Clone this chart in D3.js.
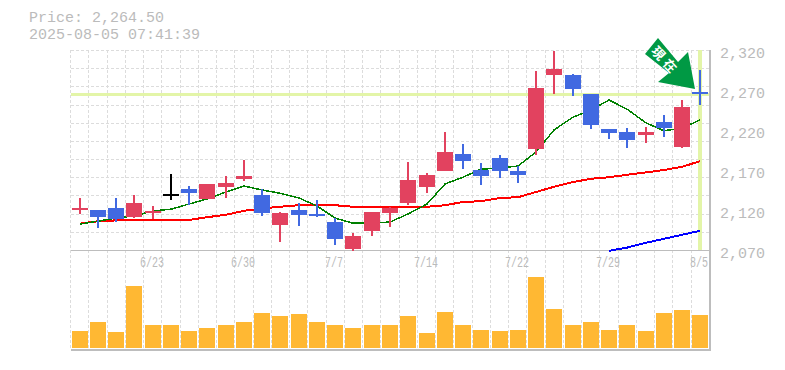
<!DOCTYPE html>
<html>
<head>
<meta charset="utf-8">
<script src="https://cdn.jsdelivr.net/npm/d3@7"></script>
<style>
  html, body { margin: 0; padding: 0; background: #fff; }
  svg { display: block; }
  text { font-family: "Liberation Mono", monospace; fill: #bbb; }
</style>
</head>
<body>
<svg id="chart" width="785" height="370"></svg>
<script>
const dates = ["6/17","6/18","6/19","6/20","6/23","6/24","6/25","6/26","6/27","6/30",
  "7/1","7/2","7/3","7/4","7/7","7/8","7/9","7/10","7/11","7/14",
  "7/15","7/16","7/17","7/18","7/22","7/23","7/24","7/25","7/28","7/29",
  "7/30","7/31","8/1","8/4","8/5"];

const opens = [2121,2120,2122.5,2111,2116,2139.6,2146,2134,2149,2158.75,
  2139,2101,2120,2114.6,2105,2071,2094,2116,2129,2149,
  2169,2190,2170,2185,2169,2196,2289,2289,2265,2221,
  2217.5,2214,2230,2199,2267.5];
const highs = [2134.6,2120,2134.6,2139,2125,2165,2150,2152.5,2162.5,2182.5,
  2146,2117.5,2128.75,2132.5,2110,2091,2117.5,2124,2180,2166,
  2217.5,2202.5,2178.75,2188.75,2175,2294,2319,2290,2265,2221,
  2222.5,2224,2239,2257.5,2295];
const lows = [2114.6,2098,2105.4,2110,2109,2132.5,2126,2134,2135,2156,
  2112.5,2080,2100,2111.6,2076,2069,2087.5,2099,2126,2141,
  2169,2171,2151,2160,2154,2189,2265,2262.5,2221,2209,
  2197.5,2204,2211,2197.5,2251];
const closes = [2122.5,2111,2108.75,2128.75,2118.75,2139.6,2141,2152.5,2153.75,2162.5,
  2116,2116,2114,2112.5,2084,2087.5,2117.5,2122.5,2157.5,2163.75,
  2192.5,2181,2162.5,2169,2164,2272.5,2296,2271,2226,2216,
  2207.5,2217.5,2222.5,2249,2264.5];
// candle colour flags: 1 red, -1 blue, 0 unchanged
const moves = [1,-1,-1,1,1,0,-1,1,1,1,-1,1,-1,-1,-1,1,1,1,1,1,
  1,-1,-1,-1,-1,1,1,-1,-1,-1,-1,1,-1,1,-1];

const maShort = [2102.5,2106,2110,2112.5,2118.75,2121,2127.5,2133.75,2142.5,2150,
  2145,2141,2135,2125,2110,2103.5,2103.5,2105,2115,2127.5,
  2152.5,2161,2171,2172.5,2175,2192.5,2220,2236,2245,2257.5,
  2246,2229,2219,2222.5,2232.5];
const maMid = [2103,2106,2107,2107,2107,2107,2107.5,2111,2114,2119,
  2122,2124,2126,2126,2126,2124,2124,2124,2124,2124,
  2126,2130,2131,2135,2136,2142.5,2149,2155,2159,2161,
  2164,2167,2170,2174,2181];
const maLong = [null,null,null,null,null,null,null,null,null,null,
  null,null,null,null,null,null,null,null,null,null,
  null,null,null,null,null,null,null,null,null,2069,
  2073,2079,2084,2089,2094];
const volumes = [17,26,16,62,23,23,17,20,23,26,35,32,34,26,23,20,23,23,32,15,
  36,23,18,17,18,71,39,23,26,18,23,17,35,38,33];

const priceTicks = [2320,2270,2220,2170,2120,2070];
const lastPrice = 2264.5;
const priceLabel = "Price: 2,264.50";
const stampLabel = "2025-08-05 07:41:39";
const arrowLabel = "現在";

const plotLeft = 70.5, plotRight = 709.5, plotTop = 50, priceBottom = 250, volBottom = 350;
const RED = "#e2425f", BLUE = "#4169e1", GRID = "#dcdcdc", AXIS = "#bdbdbd", LIME = "#e3f5a8";

const svg = d3.select("#chart");

const x = d3.scaleBand().domain(d3.range(dates.length)).range([plotLeft, plotRight]);
const y = d3.scaleLinear().domain([2070, 2320]).range([priceBottom, plotTop]);
const yVol = d3.scaleLinear().domain([0, 100]).range([348, 248]);
const cx = i => Math.round(x(i) + x.bandwidth() / 2);

// grid
const grid = svg.append("g")
  .attr("stroke", GRID)
  .attr("stroke-dasharray", "3,2")
  .attr("shape-rendering", "crispEdges");

grid.selectAll("line.v")
  .data(d3.range(dates.length + 1))
  .join("line")
  .attr("class", "v")
  .attr("x1", i => Math.floor(plotLeft + i * x.bandwidth()) + 0.5)
  .attr("x2", i => Math.floor(plotLeft + i * x.bandwidth()) + 0.5)
  .attr("y1", plotTop)
  .attr("y2", volBottom);

grid.selectAll("line.h")
  .data(d3.range(11))
  .join("line")
  .attr("class", "h")
  .attr("x1", plotLeft)
  .attr("x2", plotRight)
  .attr("y1", i => Math.round(plotTop + i * 200 / 11) + 0.5)
  .attr("y2", i => Math.round(plotTop + i * 200 / 11) + 0.5);

// current price guides
svg.append("line")
  .attr("x1", plotLeft).attr("x2", plotRight)
  .attr("y1", y(lastPrice)).attr("y2", y(lastPrice))
  .attr("stroke", LIME).attr("stroke-width", 3)
  .attr("shape-rendering", "crispEdges");

svg.append("line")
  .attr("x1", cx(34)).attr("x2", cx(34))
  .attr("y1", plotTop).attr("y2", priceBottom)
  .attr("stroke", LIME).attr("stroke-width", 4)
  .attr("shape-rendering", "crispEdges");

// axes frame
const frame = svg.append("g").attr("stroke", AXIS).attr("shape-rendering", "crispEdges");
frame.append("line").attr("x1", plotLeft).attr("x2", plotRight + 1).attr("y1", 250.5).attr("y2", 250.5);
frame.append("line").attr("x1", plotLeft).attr("x2", plotRight + 1).attr("y1", volBottom).attr("y2", volBottom).attr("stroke-width", 2);
frame.append("line").attr("x1", plotRight + 0.5).attr("x2", plotRight + 0.5).attr("y1", plotTop).attr("y2", volBottom + 1).attr("stroke-width", 2);

// moving averages
const line = d3.line()
  .defined(d => d !== null)
  .x((d, i) => cx(i))
  .y(d => y(d));

[[maLong, "#0000ff", 2], [maMid, "#ff0000", 2], [maShort, "#008000", 1.5]].forEach(([s, c, w]) => {
  svg.append("path")
    .attr("d", line(s))
    .attr("fill", "none")
    .attr("stroke", c)
    .attr("stroke-width", w)
    .attr("shape-rendering", "crispEdges");
});

// candles
const candleColor = i => moves[i] > 0 ? RED : moves[i] < 0 ? BLUE : "#000";

svg.append("g").attr("shape-rendering", "crispEdges")
  .selectAll("line")
  .data(dates)
  .join("line")
  .attr("x1", (d, i) => cx(i))
  .attr("x2", (d, i) => cx(i))
  .attr("y1", (d, i) => y(highs[i]))
  .attr("y2", (d, i) => y(lows[i]))
  .attr("stroke", (d, i) => candleColor(i))
  .attr("stroke-width", 2);

svg.append("g").attr("shape-rendering", "crispEdges")
  .selectAll("rect")
  .data(dates)
  .join("rect")
  .attr("x", (d, i) => cx(i) - 8)
  .attr("width", 16)
  .attr("y", (d, i) => y(Math.max(opens[i], closes[i])))
  .attr("height", (d, i) => Math.max(2, Math.abs(y(opens[i]) - y(closes[i]))))
  .attr("fill", (d, i) => candleColor(i));

// volume
svg.append("g").attr("shape-rendering", "crispEdges")
  .selectAll("rect")
  .data(volumes)
  .join("rect")
  .attr("x", (d, i) => cx(i) - 8)
  .attr("width", 16)
  .attr("y", d => yVol(d))
  .attr("height", d => yVol(0) - yVol(d))
  .attr("fill", "#ffb833");

// arrow
const arrow = svg.append("g");
arrow.append("path")
  .attr("d", "M645,54L658,38L678,62L688,52L695,89L658,82L669,73Z")
  .attr("fill", "#009944");
arrow.append("text")
  .attr("transform", "translate(666,60.5) rotate(47)")
  .attr("text-anchor", "middle")
  .attr("dominant-baseline", "central")
  .style("font-family", "'Noto Sans CJK JP'")
  .style("font-size", "13px")
  .style("font-weight", "700")
  .style("letter-spacing", "4px")
  .style("fill", "#fff")
  .text(arrowLabel);

// labels
svg.selectAll("text.price")
  .data(priceTicks)
  .join("text")
  .attr("class", "price")
  .attr("x", 720)
  .attr("y", d => y(d) + 8)
  .style("font-size", "15px")
  .text(d => d3.format(",")(d));

svg.selectAll("text.date")
  .data(d3.range(4, dates.length, 5))
  .join("text")
  .attr("class", "date")
  .attr("x", i => cx(i) - 1)
  .attr("y", 267)
  .attr("text-anchor", "middle")
  .style("font-size", "15px")
  .attr("textLength", i => dates[i].length * 6)
  .attr("lengthAdjust", "spacingAndGlyphs")
  .text(i => dates[i]);

svg.append("text").attr("x", 29).attr("y", 22).style("font-size", "15px").text(priceLabel);
svg.append("text").attr("x", 29).attr("y", 39).style("font-size", "15px").text(stampLabel);
</script>
</body>
</html>
